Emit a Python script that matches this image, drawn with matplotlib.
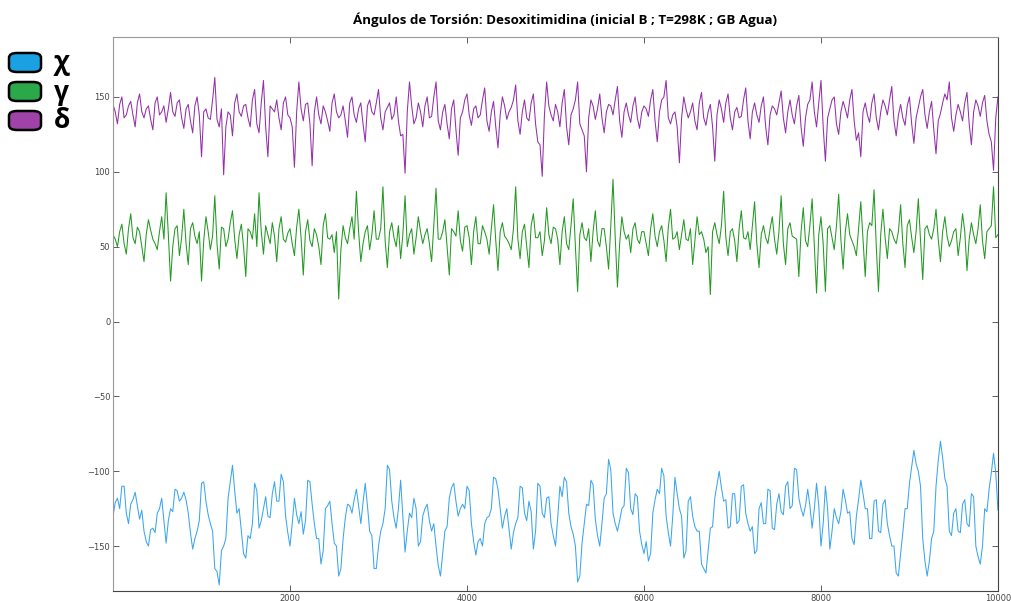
import numpy as np
import matplotlib.pyplot as plt
from matplotlib.patches import FancyBboxPatch

# Pasos de la simulacion: valores leidos cada 50 pasos (0, 50, ...)
# y valores intermedios (25, 75, ...)
pasos_a = np.arange(0, 10001, 50)
pasos_b = np.arange(25, 10000, 50)

chi_a = [
    -130, -118, -110, -128, -122, -114, -132, -140, -150, -138,
    -128, -118, -148, -125, -112, -120, -114, -128, -152, -140,
    -108, -120, -135, -165, -176, -150, -118, -96, -128, -140,
    -158, -145, -108, -138, -125, -130, -115, -120, -102, -130,
    -150, -118, -135, -142, -106, -122, -145, -162, -125, -120,
    -148, -170, -145, -122, -128, -112, -135, -108, -140, -165,
    -150, -135, -96, -120, -138, -106, -154, -128, -118, -150,
    -130, -122, -140, -150, -170, -140, -118, -108, -130, -122,
    -110, -135, -156, -145, -135, -130, -104, -112, -138, -125,
    -152, -135, -110, -128, -120, -152, -108, -128, -118, -135,
    -150, -110, -104, -128, -142, -174, -148, -122, -106, -132,
    -150, -118, -92, -128, -140, -125, -98, -125, -115, -140,
    -155, -160, -128, -112, -98, -130, -150, -104, -125, -158,
    -120, -130, -140, -162, -168, -138, -118, -100, -120, -138,
    -115, -135, -110, -128, -140, -155, -125, -135, -112, -138,
    -122, -127, -110, -125, -98, -118, -130, -112, -138, -108,
    -150, -110, -152, -125, -135, -112, -128, -145, -130, -106,
    -125, -145, -120, -140, -122, -135, -150, -168, -155, -125,
    -108, -86, -100, -145, -170, -145, -110, -80, -105, -140,
    -128, -140, -122, -135, -115, -150, -162, -125, -112, -88,
    -126,
]
chi_b = [
    -121, -125, -110, -135, -119, -123, -126, -147, -139, -141,
    -125, -133, -133, -127, -113, -118, -119, -141, -145, -133,
    -107, -129, -140, -167, -153, -145, -107, -113, -125, -155,
    -143, -135, -113, -133, -117, -131, -107, -120, -107, -141,
    -135, -129, -127, -133, -107, -135, -145, -153, -123, -135,
    -150, -165, -131, -123, -119, -123, -121, -123, -143, -165,
    -140, -125, -99, -131, -125, -130, -140, -131, -125, -147,
    -125, -133, -135, -163, -155, -137, -111, -120, -125, -125,
    -113, -147, -147, -150, -131, -125, -105, -125, -130, -139,
    -141, -131, -111, -133, -127, -140, -110, -131, -117, -143,
    -131, -117, -107, -137, -150, -170, -135, -123, -109, -143,
    -135, -115, -99, -135, -133, -123, -101, -129, -117, -149,
    -147, -155, -119, -115, -103, -141, -130, -115, -130, -153,
    -117, -137, -140, -165, -153, -137, -109, -111, -119, -137,
    -115, -133, -109, -135, -137, -153, -121, -135, -113, -139,
    -115, -129, -107, -123, -99, -125, -123, -123, -125, -123,
    -135, -125, -140, -131, -127, -119, -127, -149, -119, -115,
    -125, -145, -119, -141, -119, -143, -150, -170, -141, -125,
    -97, -95, -110, -160, -160, -140, -93, -91, -110, -143,
    -125, -141, -119, -137, -117, -157, -150, -127, -101, -101,
]

gamma_a = [
    58, 50, 65, 45, 72, 52, 60, 40, 68, 55,
    48, 70, 86, 27, 62, 44, 75, 38, 66, 52,
    27, 70, 48, 84, 35, 62, 55, 74, 42, 65,
    30, 60, 72, 86, 45, 58, 66, 40, 70, 53,
    62, 44, 75, 31, 68, 50, 58, 38, 72, 55,
    46, 15, 64, 52, 70, 87, 40, 60, 48, 74,
    55, 90, 36, 66, 50, 42, 84, 58, 45, 70,
    52, 62, 40, 89, 55, 68, 31, 60, 74, 47,
    64, 38, 70, 52, 60, 45, 78, 34, 66, 55,
    48, 90, 42, 65, 36, 72, 56, 44, 76, 52,
    62, 38, 70, 48, 82, 20, 66, 54, 40, 74,
    50, 62, 35, 95, 23, 70, 55, 46, 66, 52,
    60, 44, 72, 50, 64, 40, 75, 56, 48, 68,
    54, 38, 70, 60, 46, 18, 66, 52, 87, 44,
    62, 40, 74, 55, 48, 80, 36, 64, 52, 70,
    45, 84, 38, 66, 56, 30, 76, 50, 82, 19,
    70, 20, 64, 48, 85, 35, 72, 54, 44, 80,
    30, 66, 88, 20, 75, 42, 60, 52, 78, 36,
    68, 46, 82, 28, 64, 55, 75, 40, 70, 50,
    60, 44, 72, 34, 66, 52, 78, 42, 62, 90,
    58,
]
gamma_b = [
    55, 60, 52, 62, 56, 63, 50, 58, 61, 52,
    60, 55, 58, 50, 64, 56, 52, 62, 57, 60,
    54, 60, 57, 52, 63, 50, 66, 55, 58, 50,
    62, 55, 50, 60, 64, 52, 57, 62, 55, 59,
    52, 63, 56, 60, 54, 62, 50, 64, 56, 58,
    60, 48, 56, 62, 55, 60, 52, 64, 58, 55,
    62, 54, 60, 56, 64, 58, 50, 62, 56, 60,
    58, 52, 64, 55, 60, 50, 62, 57, 54, 63,
    56, 60, 52, 64, 55, 62, 54, 60, 57, 52,
    62, 55, 60, 50, 64, 56, 60, 54, 58, 63,
    55, 60, 52, 64, 50, 58, 56, 62, 60, 54,
    62, 50, 64, 56, 52, 60, 58, 62, 55, 60,
    52, 62, 57, 60, 54, 63, 55, 60, 58, 55,
    62, 54, 58, 55, 50, 60, 58, 64, 56, 60,
    54, 62, 56, 60, 64, 52, 58, 56, 62, 55,
    60, 52, 62, 57, 55, 60, 54, 64, 50, 58,
    52, 62, 56, 64, 55, 60, 58, 50, 62, 55,
    60, 64, 50, 58, 56, 62, 55, 60, 52, 64,
    56, 60, 54, 62, 58, 62, 55, 60, 57, 54,
    62, 56, 60, 55, 58, 62, 54, 60, 64, 56,
]

delta_a = [
    145, 132, 150, 138, 147, 130, 152, 136, 144, 128,
    150, 140, 133, 153, 137, 148, 129, 145, 126, 150,
    110, 142, 135, 163, 130, 98, 140, 124, 152, 137,
    145, 130, 155, 126, 161, 110, 142, 148, 128, 150,
    136, 103, 160, 134, 146, 104, 150, 132, 140, 127,
    152, 136, 144, 123, 150, 133, 146, 120, 148, 138,
    155, 128, 143, 135, 150, 124, 99, 160, 132, 146,
    130, 150, 137, 160, 128, 145, 122, 148, 111, 140,
    152, 131, 144, 138, 156, 127, 147, 116, 150, 135,
    143, 158, 125, 148, 134, 152, 120, 97, 160, 138,
    145, 130, 155, 118, 142, 160, 128, 100, 148, 135,
    152, 126, 145, 138, 157, 123, 146, 133, 150, 129,
    144, 137, 155, 120, 148, 161, 132, 140, 106, 150,
    136, 146, 128, 153, 131, 145, 107, 148, 133, 152,
    128, 143, 137, 156, 122, 146, 133, 150, 118, 144,
    138, 154, 126, 148, 132, 151, 117, 145, 160, 130,
    161, 107, 142, 150, 125, 147, 136, 155, 121, 110,
    146, 133, 152, 128, 148, 138, 157, 124, 145, 131,
    150, 119, 143, 155, 129, 147, 112, 139, 152, 160,
    127, 145, 134, 153, 118, 148, 137, 151, 125, 101,
    150,
]
delta_b = [
    140, 145, 136, 144, 138, 146, 140, 142, 135, 146,
    138, 144, 142, 140, 146, 136, 142, 134, 144, 138,
    140, 136, 148, 135, 142, 130, 138, 146, 140, 144,
    136, 148, 132, 146, 130, 144, 140, 136, 146, 138,
    130, 140, 142, 145, 132, 140, 138, 144, 134, 146,
    140, 138, 134, 146, 138, 142, 132, 144, 140, 146,
    136, 140, 146, 138, 134, 125, 140, 144, 136, 140,
    144, 136, 150, 134, 140, 132, 142, 128, 136, 148,
    138, 142, 136, 148, 134, 140, 130, 138, 144, 140,
    148, 134, 140, 136, 146, 132, 118, 138, 144, 134,
    140, 146, 130, 138, 148, 132, 124, 136, 144, 142,
    136, 140, 144, 148, 134, 140, 138, 144, 136, 140,
    142, 148, 134, 140, 150, 136, 138, 130, 136, 142,
    140, 134, 146, 136, 140, 130, 138, 142, 146, 136,
    140, 136, 148, 134, 140, 138, 144, 130, 138, 142,
    146, 136, 140, 138, 144, 130, 136, 148, 140, 146,
    130, 136, 148, 132, 140, 142, 148, 134, 126, 140,
    138, 146, 136, 140, 144, 148, 134, 138, 136, 144,
    132, 136, 150, 138, 140, 128, 134, 146, 148, 136,
    138, 140, 146, 132, 140, 144, 146, 134, 120, 136,
]

nombres = ["χ", "γ", "δ"]
colores_linea = ["#3aa6f0", "#229a22", "#9330aa"]
colores_leyenda = ["#1ba1e2", "#2aa84a", "#a043a8"]


def intercalar(a, b):
    # une las dos listas en el orden de los pasos
    x = np.empty(len(a) + len(b))
    y = np.empty(len(a) + len(b))
    x[0::2], x[1::2] = pasos_a, pasos_b
    y[0::2], y[1::2] = a, b
    return x, y


fig = plt.figure(figsize=(10.11, 6.01), dpi=100)
ax = fig.add_axes([0.1118, 0.0166, 0.8753, 0.9218])

series = [(chi_a, chi_b), (gamma_a, gamma_b), (delta_a, delta_b)]
for (a, b), color in zip(series, colores_linea):
    x, y = intercalar(a, b)
    ax.plot(x, y, color=color, lw=0.75)

ax.set_xlim(0, 10000)
ax.set_ylim(-180, 190)
ax.set_xticks([2000, 4000, 6000, 8000, 10000])
ax.set_yticks([-150, -100, -50, 0, 50, 100, 150])
ax.tick_params(direction="in", top=True, right=True, length=4, width=0.6,
               labelsize=6, pad=2, colors="#444444")
for lado in ["left", "top"]:
    ax.spines[lado].set_color("#9a9a9a")
for lado in ["right", "bottom"]:
    ax.spines[lado].set_color("#444444")

fig.text(0.559, 0.967, "Ángulos de Torsión: Desoxitimidina (inicial B ; T=298K ; GB Agua)",
         ha="center", va="center", fontsize=9.6, fontweight="bold", family="Open Sans")

# leyenda dibujada a mano, fuera de los ejes
for k, (nombre, color) in enumerate(zip(nombres, colores_leyenda)):
    y0 = 1 - (72 + 29 * k) / 601
    caja = FancyBboxPatch((9 / 1011, y0), 32 / 1011, 19 / 601,
                          boxstyle="round,pad=0,rounding_size=0.008",
                          transform=fig.transFigure, facecolor=color,
                          edgecolor="black", lw=1.8)
    fig.patches.append(caja)
    fig.text(54 / 1011, y0 + 9 / 601, nombre, ha="left", va="center",
             fontsize=19, fontweight="bold", family="Open Sans")

fig.savefig("out.png", dpi=100)
